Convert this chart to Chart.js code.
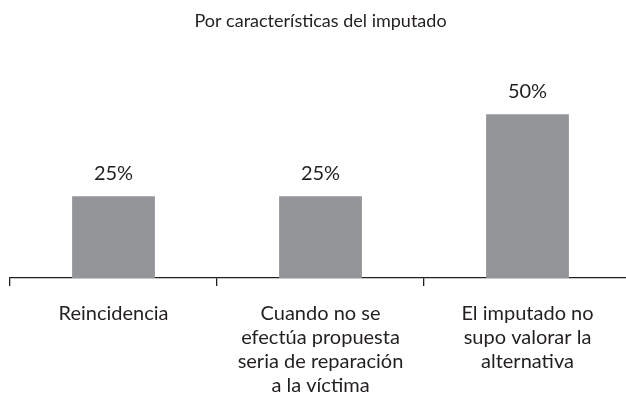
<!DOCTYPE html>
<html>
<head>
<meta charset="utf-8">
<script src="https://cdn.jsdelivr.net/npm/chart.js@4"></script>
<style>
    html, body { margin: 0; padding: 0; background: #fff; overflow: hidden; }
    #wrap { width: 640px; height: 421px; }
</style>
</head>
<body>
<div id="wrap"><canvas id="chart" width="640" height="421"></canvas></div>
<script>
const titleText = 'Por características del imputado';
const categories = [
    ['Reincidencia'],
    ['Cuando no se', 'efectúa propuesta', 'seria de reparación', 'a la víctima'],
    ['El imputado no', 'supo valorar la', 'alternativa']
];
const shares = [25, 25, 50];

const textColor = '#231f20';
const fontFamily = "Lato, 'Noto Sans', sans-serif";

// percentage above each bar
const valueLabels = {
    id: 'valueLabels',
    afterDatasetsDraw(chart) {
        const ctx = chart.ctx;
        const meta = chart.getDatasetMeta(0);
        ctx.save();
        ctx.font = `20px ${fontFamily}`;
        ctx.fillStyle = textColor;
        ctx.textAlign = 'center';
        ctx.textBaseline = 'alphabetic';
        meta.data.forEach((bar, i) => {
            ctx.fillText(shares[i] + '%', bar.x, bar.y - 16);
        });
        ctx.restore();
    }
};

new Chart(document.getElementById('chart'), {
    type: 'bar',
    data: {
        labels: categories,
        datasets: [{
            data: shares,
            backgroundColor: '#939598',
            categoryPercentage: 1,
            barPercentage: 0.4
        }]
    },
    options: {
        responsive: false,
        animation: false,
        layout: { padding: { left: 10, right: 9, top: 0, bottom: 7 } },
        plugins: {
            legend: { display: false },
            tooltip: { enabled: false },
            title: {
                display: true,
                text: titleText,
                color: textColor,
                font: { family: fontFamily, size: 18, weight: 'normal', lineHeight: 1.2 },
                padding: { top: 10, bottom: 50 }
            }
        },
        scales: {
            x: {
                grid: { drawOnChartArea: false, drawTicks: true, tickLength: 8, color: textColor, lineWidth: 1.3 },
                border: { display: true, color: textColor, width: 1.3 },
                ticks: {
                    color: textColor,
                    font: { family: fontFamily, size: 20, lineHeight: 1.2 },
                    padding: 16,
                    maxRotation: 0,
                    autoSkip: false
                }
            },
            y: {
                display: false,
                min: 0,
                max: 60
            }
        }
    },
    plugins: [valueLabels]
});
</script>
</body>
</html>
